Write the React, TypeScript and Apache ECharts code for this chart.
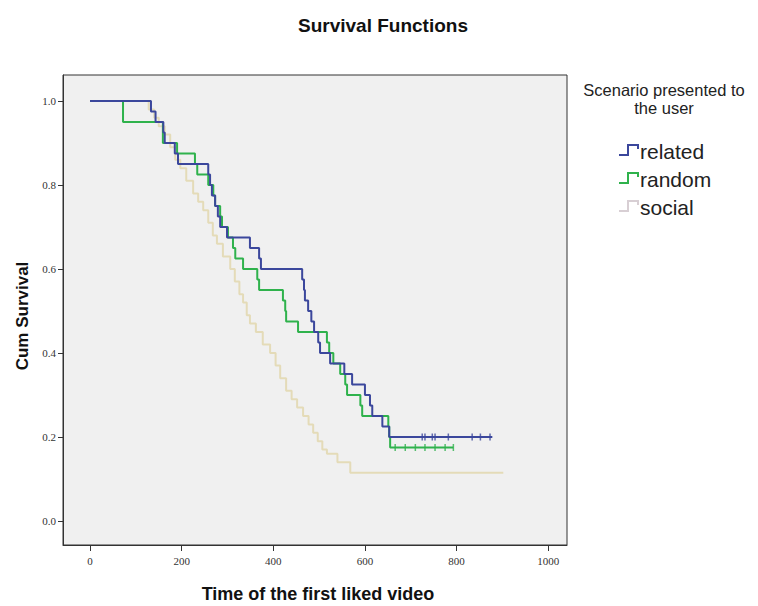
import React, { useEffect, useRef } from "react";
import * as echarts from "echarts";

// Kaplan-Meier step points: time at which survival changes, and new survival value
const relatedTimes = [0, 133, 143, 160, 163, 185, 192, 258, 262, 266, 273, 279, 284, 299, 349, 369, 373, 463, 467, 469, 476, 483, 489, 498, 502, 524, 555, 572, 600, 611, 616, 638, 653, 878];
const relatedSurv = [1.0, 0.975, 0.95, 0.925, 0.9, 0.875, 0.85, 0.825, 0.8, 0.775, 0.75, 0.725, 0.7, 0.675, 0.65, 0.625, 0.6, 0.575, 0.55, 0.525, 0.5, 0.475, 0.45, 0.425, 0.4, 0.375, 0.35, 0.325, 0.3, 0.275, 0.25, 0.225, 0.2, 0.2];
const relatedCensored = [725, 731, 747, 753, 782, 834, 852, 873];

const randomTimes = [0, 72, 159, 190, 229, 234, 258, 269, 273, 284, 288, 301, 312, 317, 334, 365, 369, 421, 426, 428, 454, 517, 522, 531, 546, 557, 561, 590, 594, 651, 653, 655, 793];
const randomSurv = [1.0, 0.95, 0.9, 0.875, 0.85, 0.825, 0.8, 0.775, 0.75, 0.725, 0.7, 0.675, 0.65, 0.625, 0.6, 0.575, 0.55, 0.525, 0.5, 0.475, 0.45, 0.425, 0.4, 0.375, 0.35, 0.325, 0.3, 0.275, 0.25, 0.225, 0.2, 0.175, 0.175];
const randomCensored = [666, 688, 710, 731, 753, 775, 793];

const socialTimes = [0, 128, 140, 150, 163, 175, 186, 197, 210, 225, 236, 247, 258, 268, 277, 290, 306, 316, 326, 334, 342, 349, 362, 377, 393, 405, 415, 428, 440, 452, 465, 477, 487, 497, 507, 517, 540, 568, 902];
const socialSurv = [1.0, 0.98, 0.96, 0.94, 0.92, 0.89, 0.86, 0.84, 0.81, 0.78, 0.76, 0.74, 0.71, 0.68, 0.66, 0.63, 0.6, 0.57, 0.54, 0.52, 0.49, 0.47, 0.45, 0.42, 0.4, 0.37, 0.34, 0.31, 0.29, 0.27, 0.25, 0.23, 0.21, 0.19, 0.17, 0.16, 0.14, 0.115, 0.115];

const xTicks = [0, 200, 400, 600, 800, 1000];
const yTicks = [0.0, 0.2, 0.4, 0.6, 0.8, 1.0];

const seriesNames = ["related", "random", "social"];
const colors = ["#3b479c", "#2fb24c", "#e4dbb8"];
const legendIconColors = ["#3b479c", "#2fb24c", "#d8cfd4"];

function zip(a: number[], b: number[]) {
  return a.map((v, i) => [v, b[i]]);
}
function censorPoints(times: number[], value: number) {
  return times.map((t) => [t, value]);
}

const FONT = "'Liberation Sans', Arial, sans-serif";

export default function App() {
  const ref = useRef<HTMLDivElement>(null);
  useEffect(() => {
    document.body.style.margin = "0";
    if (!ref.current) return;
    const chart = echarts.init(ref.current, undefined, { renderer: "svg" });
    const gridLeft = 63, gridTop = 75, gridW = 504, gridH = 470;
    const legendItems = seriesNames.map((n, i) => {
      const y = 151 + i * 28;
      return {
        type: "group",
        children: [
          {
            type: "polyline",
            shape: { points: [[619, y + 4], [628, y + 4], [628, y - 6], [638, y - 6], [638, y - 2]] },
            style: { stroke: legendIconColors[i], lineWidth: 2, fill: null },
          },
          {
            type: "text",
            x: 640,
            y: y,
            style: { text: n, font: `21px ${FONT}`, fill: "#222", verticalAlign: "middle" },
          },
        ],
      };
    });
    chart.setOption({
      animation: false,
      backgroundColor: "#ffffff",
      title: {
        text: "Survival Functions",
        left: 378,
        top: 11,
        textAlign: "center",
        textStyle: { fontFamily: FONT, fontWeight: "bold", fontSize: 19, color: "#111" },
      },
      grid: {
        left: gridLeft,
        top: gridTop,
        width: gridW,
        height: gridH,
        show: true,
        backgroundColor: "#f0f0f0",
        borderColor: "#333",
        borderWidth: 1,
      },
      xAxis: {
        type: "value",
        min: -59,
        max: 1041,
        splitLine: { show: false },
        axisLine: { show: true, onZero: false, lineStyle: { color: "#333", width: 1 } },
        axisTick: { show: true, customValues: xTicks, length: 6, lineStyle: { color: "#333" } },
        axisLabel: {
          customValues: xTicks,
          color: "#333",
          fontSize: 11,
          fontFamily: "'Liberation Serif', serif",
          margin: 10,
          formatter: (v: number) => String(v),
        },
      },
      yAxis: {
        type: "value",
        min: -0.0571,
        max: 1.0619,
        splitLine: { show: false },
        axisLine: { show: true, onZero: false, lineStyle: { color: "#333", width: 1 } },
        axisTick: { show: true, customValues: yTicks, length: 5, lineStyle: { color: "#333" } },
        axisLabel: {
          customValues: yTicks,
          color: "#333",
          fontSize: 11,
          fontFamily: "'Liberation Serif', serif",
          margin: 7,
          formatter: (v: number) => v.toFixed(1),
        },
      },
      graphic: [
        {
          type: "text",
          x: 22,
          y: 316,
          rotation: Math.PI / 2,
          style: {
            text: "Cum Survival",
            font: `bold 17px ${FONT}`,
            fill: "#111",
            align: "center",
            verticalAlign: "middle",
          },
        },
        {
          type: "text",
          x: 318,
          y: 594,
          style: {
            text: "Time of the first liked video",
            font: `bold 18px ${FONT}`,
            fill: "#111",
            align: "center",
            verticalAlign: "middle",
          },
        },
        {
          type: "text",
          x: 664,
          y: 90,
          style: {
            text: "Scenario presented to",
            font: `16.5px ${FONT}`,
            fill: "#222",
            align: "center",
            verticalAlign: "middle",
          },
        },
        {
          type: "text",
          x: 664,
          y: 108,
          style: {
            text: "the user",
            font: `16.5px ${FONT}`,
            fill: "#222",
            align: "center",
            verticalAlign: "middle",
          },
        },
        ...legendItems,
      ],
      series: [
        {
          name: "social",
          type: "line",
          step: "end",
          symbol: "none",
          data: zip(socialTimes, socialSurv),
          lineStyle: { color: colors[2], width: 2 },
          z: 2,
        },
        {
          name: "random",
          type: "line",
          step: "end",
          symbol: "none",
          data: zip(randomTimes, randomSurv),
          lineStyle: { color: colors[1], width: 2 },
          z: 3,
        },
        {
          name: "related",
          type: "line",
          step: "end",
          symbol: "none",
          data: zip(relatedTimes, relatedSurv),
          lineStyle: { color: colors[0], width: 2 },
          z: 4,
        },
        {
          name: "related censored",
          type: "scatter",
          symbol: "rect",
          symbolSize: [1.5, 7],
          data: censorPoints(relatedCensored, 0.2),
          itemStyle: { color: colors[0] },
          z: 5,
        },
        {
          name: "random censored",
          type: "scatter",
          symbol: "rect",
          symbolSize: [1.5, 7],
          data: censorPoints(randomCensored, 0.175),
          itemStyle: { color: colors[1] },
          z: 5,
        },
      ],
    });
    return () => chart.dispose();
  }, []);
  return <div ref={ref} style={{ width: 758, height: 606 }} />;
}
